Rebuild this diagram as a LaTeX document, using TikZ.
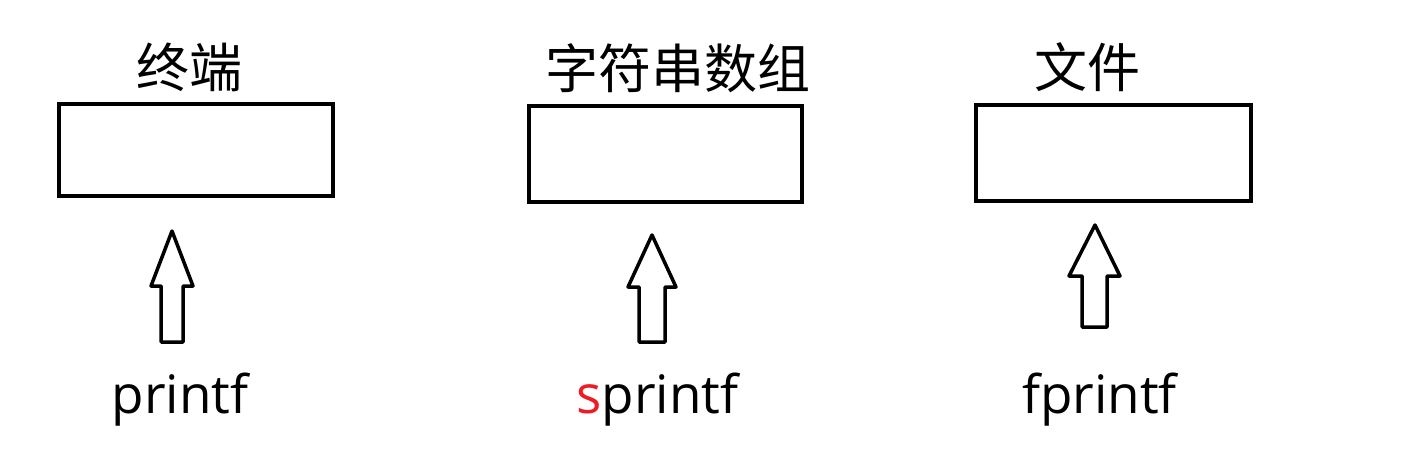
\documentclass[tikz,border=0pt]{standalone}
\usepackage{fontspec}
\setmainfont{Open Sans}
\newfontfamily\cjk{Noto Sans CJK SC}
\definecolor{sred}{RGB}{237,28,36}
\begin{document}
\begin{tikzpicture}[x=1pt,y=-1pt,
  box/.style={draw=black,line width=4pt,rectangle,inner sep=0pt},
  title/.style={font=\cjk\fontsize{53}{60}\selectfont,inner sep=0pt},
  func/.style={font=\fontsize{53}{60}\selectfont,inner sep=0pt,anchor=base},
  fat/.style={draw=black,line width=3.5pt,line join=round,fill=white}]
\useasboundingbox (0,0) rectangle (1415,473);
% boxes
\node[box,minimum width=274pt,minimum height=92pt] (b1) at (196,150) {};
\node[box,minimum width=273pt,minimum height=96pt] (b2) at (665.5,154) {};
\node[box,minimum width=275pt,minimum height=96pt] (b3) at (1113.5,153) {};
% titles
\node[title] (t1) at (189,67.5) {终端};
\node[title] (t2) at (677.5,68) {字符串数组};
\node[title] (t3) at (1087,67) {文件};
% functions
\node[func] (f1) at (180,413) {printf};
\node[func] (f2) at (657.5,413) {\textcolor{sred}{s}printf};
\node[func] (f3) at (1099.5,413) {fprintf};
% fat arrows
\draw[fat] (172,231) -- (193,286) -- (183,286) -- (183,342) -- (161,342) -- (161,286) -- (151,286) -- cycle;
\draw[fat] (652,235) -- (676,287) -- (665,287) -- (665,342) -- (639,342) -- (639,287) -- (628,287) -- cycle;
\draw[fat] (1095,225) -- (1120,276) -- (1107,276) -- (1107,327) -- (1082,327) -- (1082,276) -- (1069,276) -- cycle;
\end{tikzpicture}
\end{document}
